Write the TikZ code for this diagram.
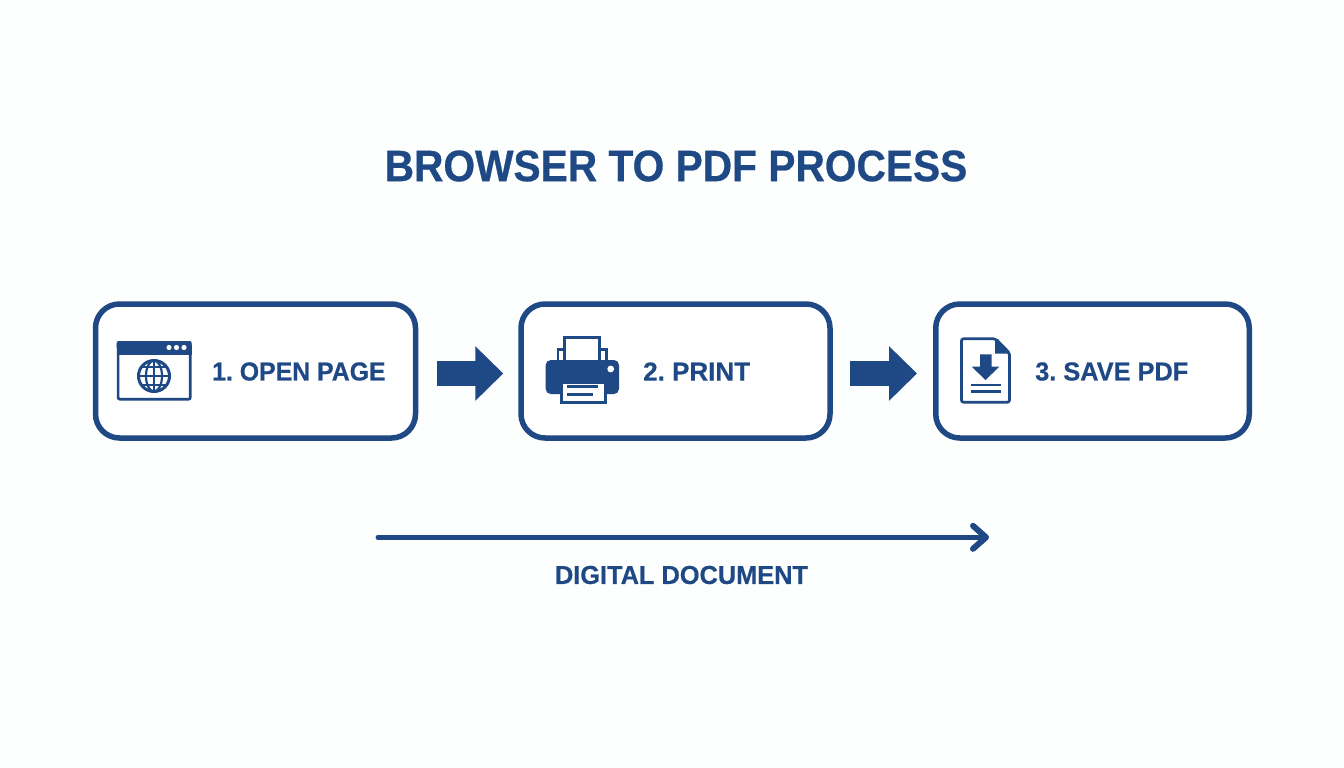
\documentclass[tikz,border=0pt]{standalone}
\usepackage{fontspec}
\setmainfont{Liberation Sans}
\newfontfamily\headfont[FakeStretch=0.925,FakeBold=0.6]{Liberation Sans Bold}
\newfontfamily\labelfont[FakeStretch=0.955,FakeBold=0.5]{Liberation Sans Bold}
\newfontfamily\labelfontb[FakeStretch=0.975,FakeBold=0.5]{Liberation Sans Bold}
\newfontfamily\labelfontc[FakeStretch=1.0,FakeBold=0.5]{Liberation Sans Bold}
\usetikzlibrary{arrows.meta,calc}
\definecolor{navy}{RGB}{31,73,133}
\definecolor{pagebg}{RGB}{253,254,254}
\tikzset{
  x=1pt,y=-1pt,
  stepbox/.style={draw=navy,line width=5.5pt,rounded corners=24pt,fill=white,minimum height=134pt,inner sep=0pt},
  label/.style={text=navy,anchor=west,inner sep=0pt},
  blockarrow/.style={navy,line width=25pt,-{Triangle[length=28pt,width=53pt]}},
  icon line/.style={draw=navy,line width=2.7pt},
  icon rule/.style={draw=navy,line width=2.5pt},
}
\frenchspacing
\begin{document}
\begin{tikzpicture}
\useasboundingbox (0,0) rectangle (1344,768);
\fill[pagebg] (0,0) rectangle (1344,768);
\node[text=navy,font=\headfont\fontsize{44}{44}\selectfont,inner sep=0pt] (title) at (676,166) {BROWSER TO PDF PROCESS};
\node[stepbox,minimum width=320pt] (b1) at (255.5,371) {};
\node[stepbox,minimum width=309pt] (b2) at (675.5,371) {};
\node[stepbox,minimum width=313.5pt] (b3) at (1092.5,371) {};
\node[label,font=\labelfont\fontsize{26}{26}\selectfont] (t1) at (212,371.5) {1. OPEN PAGE};
\node[label,font=\labelfontc\fontsize{26}{26}\selectfont] (t2) at (643,371.5) {2. PRINT};
\node[label,font=\labelfontb\fontsize{26}{26}\selectfont] (t3) at (1035,371.5) {3. SAVE PDF};
\draw[blockarrow,shorten <=19pt,shorten >=15pt] ($(b1.east)+(0,2.5)$) -- ($(b2.west)+(0,2.5)$);
\draw[blockarrow,shorten <=17.5pt,shorten >=16pt] ($(b2.east)+(0,2.5)$) -- ($(b3.west)+(0,2.5)$);
% browser icon
\draw[icon line,rounded corners=2pt] (118.1,342.5) rectangle (190.3,399.3);
\fill[navy,rounded corners=2pt] (116.7,341) rectangle (191.7,350);
\fill[navy] (116.7,346) rectangle (191.7,354.5);
\foreach \cx in {169,176.5,184} \fill[white] (\cx,347.5) circle (2.6);
\draw[navy,line width=3pt] (154,376) circle (15.5);
\draw[navy,line width=2.2pt] (154,376) ellipse (8 and 15.5);
\draw[navy,line width=2.2pt] (154,361) -- (154,391);
\draw[navy,line width=2.2pt] (139,376) -- (169,376);
\draw[navy,line width=2.2pt] (142,367) -- (166,367);
\draw[navy,line width=2.2pt] (142,385) -- (166,385);
% printer icon
\draw[icon line] (564.7,361) -- (564.7,337.2) -- (599.6,337.2) -- (599.6,361);
\draw[icon line,line width=2.6pt] (558,361) -- (558,349.3) -- (564.7,349.3);
\draw[icon line,line width=2.6pt] (606.7,361) -- (606.7,349.3) -- (599.6,349.3);
\fill[navy,rounded corners=5pt] (545.7,360) rectangle (619,394);
\fill[white] (610.7,369) circle (3.4);
\draw[icon line,fill=white] (561.5,383) -- (561.5,402.8) -- (605.8,402.8) -- (605.8,383);
\fill[navy] (560,380) rectangle (607.3,384);
\draw[icon rule] (567,386.7) -- (597.7,386.7);
\draw[icon rule] (567,394.3) -- (593,394.3);
% document icon
\draw[icon line,rounded corners=2pt,line join=round] (961.5,338.8) -- (995.7,338.8) -- (1009.5,353) -- (1009.5,402.2) -- (961.5,402.2) -- cycle;
\fill[navy] (995,338) -- (1010.5,353.5) -- (995,353.5) -- cycle;
\fill[navy] (980,354.3) -- (991.7,354.3) -- (991.7,366.7) -- (999.3,366.7) -- (985.5,380) -- (971.7,366.7) -- (980,366.7) -- cycle;
\draw[icon rule] (970.7,385) -- (1000.7,385);
\draw[icon rule] (970.7,391.7) -- (1000.7,391.7);
% bottom arrow
\coordinate (s) at (378,537.3);
\coordinate (e) at (989,537.3);
\draw[navy,line width=5pt,line cap=round,-{Straight Barb[length=13pt,width=23pt,line width=6pt,round]}] (s) -- (e);
\node[text=navy,font=\labelfontb\fontsize{26}{26}\selectfont,inner sep=0pt] (cap) at (681.5,575) {DIGITAL DOCUMENT};
\end{tikzpicture}
\end{document}
